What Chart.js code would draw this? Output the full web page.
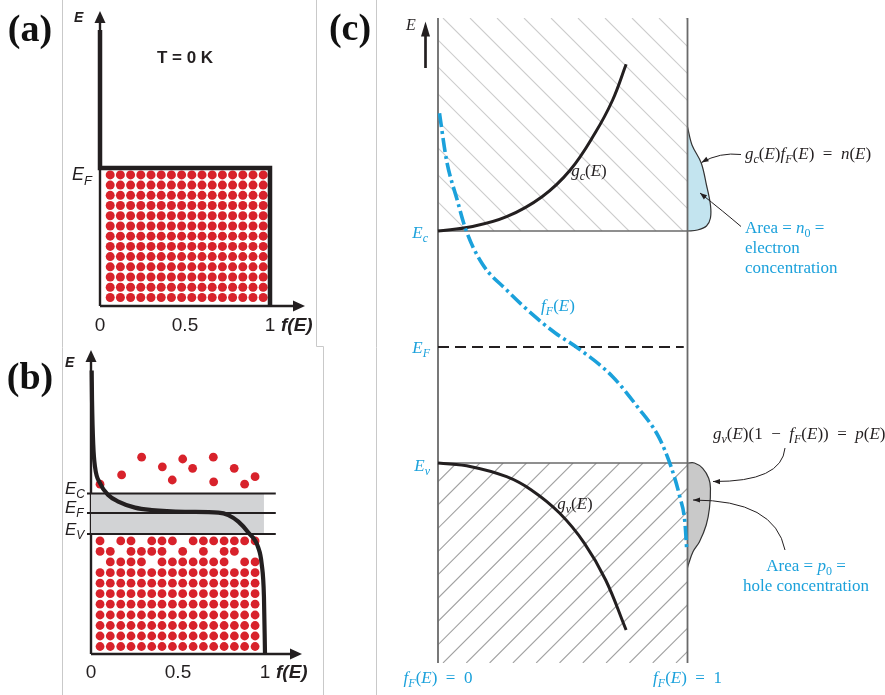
<!DOCTYPE html>
<html>
<head>
<meta charset="utf-8">
<script src="https://cdn.jsdelivr.net/npm/chart.js@4.4.1/dist/chart.umd.min.js"></script>
<style>
  html, body { margin: 0; padding: 0; background: #fff; }
  #wrap { position: relative; width: 885px; height: 695px; }
  canvas { position: absolute; left: 0; top: 0; }
</style>
</head>
<body>
<div id="wrap">
  <canvas id="chartA" width="885" height="695"></canvas>
  <canvas id="chartB" width="885" height="695"></canvas>
  <canvas id="chartC" width="885" height="695"></canvas>
</div>
<script>
// ---- (a) occupancy at T = 0 K  (f, E) ----
const aStep = [[0, 10], [0, 5], [1, 5], [1, 0]];
const aEF = 5;
const aDotCols = [0.06, 0.12, 0.18, 0.24, 0.30, 0.36, 0.42, 0.48, 0.54, 0.60, 0.66, 0.72, 0.78, 0.84, 0.90, 0.96];
const aDotRows = [4.75, 4.38, 4.01, 3.64, 3.27, 2.90, 2.53, 2.16, 1.79, 1.42, 1.05, 0.68, 0.31];
const fTicks = [0, 0.5, 1];
const fTickLabels = ['0', '0.5', '1'];

// ---- (b) occupancy at T > 0 ----
const bEC = 5.35, bEF = 4.7, bEV = 4.0;
const bFermi = [[0.004, 9.45], [0.006, 8.45], [0.013, 6.97], [0.023, 6.24], [0.052, 5.69], [0.099, 5.30],
  [0.157, 5.08], [0.253, 4.88], [0.349, 4.80], [0.540, 4.74], [0.732, 4.71], [0.789, 4.63], [0.847, 4.41],
  [0.904, 4.05], [0.961, 3.55], [0.981, 3.00], [0.994, 1.90], [1.0, 0.0]];
const bDotCols = [0.052, 0.111, 0.171, 0.230, 0.290, 0.349, 0.408, 0.468, 0.527, 0.587, 0.646, 0.705, 0.765, 0.824, 0.883, 0.943];
const bDotRows = [3.77, 3.42, 3.07, 2.71, 2.36, 2.01, 1.66, 1.30, 0.95, 0.60, 0.25];
// holes in the three rows just below E_V (1 = occupied), lower rows are full
const bDotMask = ['1011011101111111', '1101111010101100', '0111101111111011'];
const bFreeDots = [[0.052, 5.66], [0.176, 5.97], [0.291, 6.56], [0.410, 6.24], [0.467, 5.80], [0.527, 6.50],
  [0.584, 6.19], [0.703, 6.56], [0.705, 5.74], [0.823, 6.19], [0.883, 5.66], [0.943, 5.91]];

// ---- (c) band diagram with densities of states ----
const cTop = 64.5;
const cEc = 43.2, cEF = 31.6, cEv = 20.0;
const cGc = [[0, 43.2], [0.133, 43.63], [0.275, 44.63], [0.417, 46.63], [0.530, 49.3], [0.629, 52.97], [0.700, 56.3], [0.754, 59.87]];
const cGv = [[0, 20.0], [0.133, 19.63], [0.275, 18.63], [0.374, 17.3], [0.488, 14.97], [0.587, 11.97], [0.672, 8.3], [0.754, 3.3]];
const cFermi = [[0.006, 54.97], [0.034, 50.3], [0.077, 46.3], [0.112, 43.3], [0.176, 39.97], [0.275, 37.3], [0.389, 34.63],
  [0.470, 33.0], [0.560, 31.5], [0.700, 28.63], [0.799, 25.63], [0.884, 22.63], [0.934, 19.63], [0.969, 16.63],
  [0.990, 13.97], [0.997, 11.3]];
const cN = [[1.0, 53.6], [1.018, 51.8], [1.055, 50.0], [1.076, 47.8], [1.092, 45.8], [1.092, 44.5], [1.076, 43.7], [1.040, 43.3], [1.0, 43.2]];
const cP = [[1.0, 20.0], [1.028, 20.0], [1.061, 19.47], [1.085, 18.47], [1.092, 17.47], [1.088, 15.47], [1.075, 13.8],
  [1.048, 12.13], [1.022, 11.13], [1.003, 9.8], [1.0, 9.5]];

const SANS = '"Liberation Sans", Arial, sans-serif';
const SERIF = '"Liberation Serif", "Times New Roman", serif';
const INK = '#231f20';
const BLUE = '#1ba1db';
const RED = '#d8222b';
const SP = '\u2002'; // en space around math operators

function pts(arr) { return arr.map(([x, y]) => ({ x, y })); }

function lineSet(arr, color, width, extra) {
  return Object.assign({
    data: pts(arr), showLine: true, borderColor: color, borderWidth: width,
    pointRadius: 0, fill: false, clip: false, tension: 0
  }, extra || {});
}

function dotSet(points, r) {
  return { data: points, showLine: false, pointRadius: r, pointBackgroundColor: RED, pointBorderWidth: 0, clip: false };
}

function baseOptions(pad, xMax, yMax) {
  return {
    responsive: false, animation: false, events: [],
    layout: { padding: pad },
    plugins: { legend: { display: false }, tooltip: { enabled: false } },
    scales: {
      x: { type: 'linear', display: false, min: 0, max: xMax },
      y: { type: 'linear', display: false, min: 0, max: yMax }
    }
  };
}

// text made of runs: [text, style] where style has i (italic), b (bold), _ (subscript)
function rich(ctx, x, y, parts, o) {
  const size = o.size, fam = o.family;
  const fontFor = st => (st.includes('i') ? 'italic ' : '') + (st.includes('b') ? 'bold ' : '') +
    (st.includes('_') ? Math.round(size * 0.7) : size) + 'px ' + fam;
  let w = 0;
  for (const [t, st = ''] of parts) { ctx.font = fontFor(st); w += ctx.measureText(t).width; }
  let cx = o.align === 'center' ? x - w / 2 : o.align === 'right' ? x - w : x;
  ctx.save();
  ctx.fillStyle = o.color || INK;
  ctx.textAlign = 'left';
  ctx.textBaseline = 'alphabetic';
  for (const [t, st = ''] of parts) {
    ctx.font = fontFor(st);
    ctx.fillText(t, cx, y + (st.includes('_') ? size * (o.subDrop || 0.25) : 0));
    cx += ctx.measureText(t).width;
  }
  ctx.restore();
}

function arrowHead(ctx, tx, ty, fx, fy, len, half, color) {
  const a = Math.atan2(ty - fy, tx - fx);
  ctx.save();
  ctx.translate(tx, ty);
  ctx.rotate(a);
  ctx.beginPath();
  ctx.moveTo(0, 0);
  ctx.lineTo(-len, -half);
  ctx.lineTo(-len, half);
  ctx.closePath();
  ctx.fillStyle = color;
  ctx.fill();
  ctx.restore();
}

function curvedArrow(ctx, from, ctrl, tip) {
  ctx.save();
  ctx.strokeStyle = INK;
  ctx.lineWidth = 1;
  ctx.beginPath();
  ctx.moveTo(from[0], from[1]);
  ctx.quadraticCurveTo(ctrl[0], ctrl[1], tip[0], tip[1]);
  ctx.stroke();
  ctx.restore();
  arrowHead(ctx, tip[0], tip[1], ctrl[0], ctrl[1], 7, 2.6, INK);
}

function axesArrows(ctx, x0, y0, yTip, xTip) {
  ctx.save();
  ctx.strokeStyle = INK;
  ctx.lineWidth = 2.4;
  ctx.beginPath();
  ctx.moveTo(x0, y0); ctx.lineTo(x0, yTip + 10);
  ctx.moveTo(x0, y0); ctx.lineTo(xTip - 10, y0);
  ctx.stroke();
  ctx.restore();
  arrowHead(ctx, x0, yTip, x0, yTip + 20, 12, 5.5, INK);
  arrowHead(ctx, xTip, y0, xTip - 20, y0, 12, 5.5, INK);
}

function fAxisLabels(chart, base) {
  const { ctx } = chart, sx = chart.scales.x;
  fTicks.forEach((v, i) => {
    rich(ctx, sx.getPixelForValue(v), base, [[fTickLabels[i]]], { size: 19, family: SANS, align: 'center' });
  });
  rich(ctx, sx.getPixelForValue(1) + 11, base, [['f(E)', 'ib']], { size: 19, family: SANS });
}

// ---------- (a) ----------
const aDots = [];
aDotRows.forEach(e => aDotCols.forEach(f => aDots.push({ x: f, y: e })));

const decorA = {
  id: 'decorA',
  beforeDatasetsDraw(chart) {
    const { ctx } = chart, sx = chart.scales.x, sy = chart.scales.y;
    // thin frame lines between the panels
    ctx.save();
    ctx.strokeStyle = '#c9c9c9';
    ctx.lineWidth = 1;
    ctx.beginPath();
    ctx.moveTo(62.5, 0); ctx.lineTo(62.5, 695);
    ctx.moveTo(316.5, 0); ctx.lineTo(316.5, 346.5); ctx.lineTo(323.5, 346.5); ctx.lineTo(323.5, 695);
    ctx.moveTo(376.5, 0); ctx.lineTo(376.5, 695);
    ctx.stroke();
    ctx.restore();
    axesArrows(ctx, sx.getPixelForValue(0), sy.getPixelForValue(0), 11, 305);
  },
  afterDraw(chart) {
    const { ctx } = chart, sy = chart.scales.y;
    ctx.save();
    ctx.font = 'bold 38px ' + SERIF;
    ctx.fillStyle = '#111';
    ctx.textAlign = 'center';
    ctx.fillText('(a)', 30, 41);
    ctx.restore();
    rich(ctx, 74, 22, [['E', 'ib']], { size: 14, family: SANS });
    rich(ctx, 185, 63, [['T', 'b'], [' = 0 K', 'b']], { size: 17, family: SANS, align: 'center' });
    rich(ctx, 72, sy.getPixelForValue(aEF) + 12, [['E', 'i'], ['F', 'i_']], { size: 18, family: SANS, subDrop: 0.28 });
    fAxisLabels(chart, 331);
  }
};

new Chart(document.getElementById('chartA'), {
  type: 'scatter',
  data: {
    datasets: [
      lineSet(aStep, INK, 4.5, { borderJoinStyle: 'miter' }),
      dotSet(aDots, 4.5)
    ]
  },
  options: baseOptions({ left: 100, right: 615, top: 30, bottom: 389 }, 1, 10),
  plugins: [decorA]
});

// ---------- (b) ----------
const bDots = [];
bDotRows.forEach((e, r) => bDotCols.forEach((f, c) => {
  const mask = bDotMask[r];
  if (!mask || mask[c] === '1') bDots.push({ x: f, y: e });
}));
const bLevelSpan = [-0.023, 1.062];

const decorB = {
  id: 'decorB',
  beforeDatasetsDraw(chart) {
    const sx = chart.scales.x, sy = chart.scales.y;
    axesArrows(chart.ctx, sx.getPixelForValue(0), sy.getPixelForValue(0), 350, 302);
  },
  afterDraw(chart) {
    const { ctx } = chart, sy = chart.scales.y;
    ctx.save();
    ctx.font = 'bold 38px ' + SERIF;
    ctx.fillStyle = '#111';
    ctx.textAlign = 'center';
    ctx.fillText('(b)', 30, 389);
    ctx.restore();
    rich(ctx, 65, 367, [['E', 'ib']], { size: 14, family: SANS });
    const o = { size: 17, family: SANS, subDrop: 0.24 };
    rich(ctx, 65, sy.getPixelForValue(bEC) + 0, [['E', 'i'], ['C', 'i_']], o);
    rich(ctx, 65, sy.getPixelForValue(bEF) + 0, [['E', 'i'], ['F', 'i_']], o);
    rich(ctx, 65, sy.getPixelForValue(bEV) + 1, [['E', 'i'], ['V', 'i_']], o);
    fAxisLabels(chart, 678);
  }
};

new Chart(document.getElementById('chartB'), {
  type: 'scatter',
  data: {
    datasets: [
      lineSet(bFermi, INK, 4.2, { cubicInterpolationMode: 'monotone' }),
      dotSet(pts(bFreeDots), 4.4),
      dotSet(bDots, 4.4),
      lineSet([[bLevelSpan[0], bEC], [bLevelSpan[1], bEC]], INK, 1.8),
      lineSet([[bLevelSpan[0], bEF], [bLevelSpan[1], bEF]], INK, 1.8),
      lineSet([[bLevelSpan[0], bEV], [bLevelSpan[1], bEV]], INK, 1.8),
      lineSet([[0, bEC], [0.994, bEC]], 'rgba(0,0,0,0)', 0, { fill: { value: bEV }, backgroundColor: '#d2d3d5' })
    ]
  },
  options: baseOptions({ left: 91, right: 620, top: 354, bottom: 41 }, 1, 10),
  plugins: [decorB]
});

// ---------- (c) ----------
function hatch(ctx, x0, y0, x1, y1, step, phase, rising, color) {
  ctx.save();
  ctx.beginPath();
  ctx.rect(x0, y0, x1 - x0, y1 - y0);
  ctx.clip();
  ctx.strokeStyle = color;
  ctx.lineWidth = 1.1;
  const h = y1 - y0;
  ctx.beginPath();
  for (let s = x0 + phase - Math.ceil((h + step) / step) * step; s < x1 + h; s += step) {
    if (rising) { ctx.moveTo(s, y1); ctx.lineTo(s + h, y0); }
    else { ctx.moveTo(s, y0); ctx.lineTo(s + h, y1); }
  }
  ctx.stroke();
  ctx.restore();
}

const decorC = {
  id: 'decorC',
  beforeDatasetsDraw(chart) {
    const { ctx } = chart, sx = chart.scales.x, sy = chart.scales.y;
    const l = sx.getPixelForValue(0), r = sx.getPixelForValue(1);
    hatch(ctx, l, sy.getPixelForValue(cTop), r, sy.getPixelForValue(cEc), 27, 5, false, '#cdcdcd');
    hatch(ctx, l, sy.getPixelForValue(cEv), r, sy.getPixelForValue(0), 23.3, 5, true, '#a3a3a3');
  },
  afterDraw(chart) {
    const { ctx } = chart, sx = chart.scales.x, sy = chart.scales.y;
    ctx.save();
    ctx.font = 'bold 38px ' + SERIF;
    ctx.fillStyle = '#111';
    ctx.textAlign = 'center';
    ctx.fillText('(c)', 350, 40);
    ctx.restore();

    // energy arrow
    ctx.save();
    ctx.strokeStyle = INK;
    ctx.lineWidth = 2.7;
    ctx.beginPath();
    ctx.moveTo(425.5, 68); ctx.lineTo(425.5, 32);
    ctx.stroke();
    ctx.restore();
    arrowHead(ctx, 425.5, 21.5, 425.5, 40, 15, 4.5, INK);

    const s = { size: 17, family: SERIF };
    const b = { size: 17, family: SERIF, color: BLUE };
    rich(ctx, 411, 30, [['E', 'i']], Object.assign({}, s, { size: 16, align: 'center' }));
    rich(ctx, 428, sy.getPixelForValue(cEc) + 7, [['E', 'i'], ['c', 'i_']], Object.assign({}, b, { align: 'right' }));
    rich(ctx, 430, sy.getPixelForValue(cEF) + 6, [['E', 'i'], ['F', 'i_']], Object.assign({}, b, { align: 'right' }));
    rich(ctx, 430, sy.getPixelForValue(cEv) + 8, [['E', 'i'], ['v', 'i_']], Object.assign({}, b, { align: 'right' }));

    rich(ctx, 589, 176, [['g', 'i'], ['c', 'i_'], ['('], ['E', 'i'], [')']], Object.assign({}, s, { align: 'center' }));
    rich(ctx, 575, 509, [['g', 'i'], ['v', 'i_'], ['('], ['E', 'i'], [')']], Object.assign({}, s, { align: 'center' }));
    rich(ctx, 558, 311, [['f', 'i'], ['F', 'i_'], ['('], ['E', 'i'], [')']], Object.assign({}, b, { align: 'center' }));

    const fx0 = sx.getPixelForValue(0), fx1 = sx.getPixelForValue(1);
    rich(ctx, fx0, 683, [['f', 'i'], ['F', 'i_'], ['('], ['E', 'i'], [')' + SP + '=' + SP + '0']], Object.assign({}, b, { align: 'center' }));
    rich(ctx, fx1, 683, [['f', 'i'], ['F', 'i_'], ['('], ['E', 'i'], [')' + SP + '=' + SP + '1']], Object.assign({}, b, { align: 'center' }));

    rich(ctx, 745, 159, [['g', 'i'], ['c', 'i_'], ['('], ['E', 'i'], [')'], ['f', 'i'], ['F', 'i_'], ['('], ['E', 'i'],
      [')' + SP + '=' + SP], ['n', 'i'], ['('], ['E', 'i'], [')']], s);
    rich(ctx, 745, 233, [['Area = '], ['n', 'i'], ['0', '_'], [' =']], b);
    rich(ctx, 745, 253, [['electron']], b);
    rich(ctx, 745, 273, [['concentration']], b);

    rich(ctx, 713, 439, [['g', 'i'], ['v', 'i_'], ['('], ['E', 'i'], [')(1' + SP + '\u2212' + SP], ['f', 'i'], ['F', 'i_'], ['('], ['E', 'i'],
      ['))' + SP + '=' + SP], ['p', 'i'], ['('], ['E', 'i'], [')']], s);
    rich(ctx, 806, 571, [['Area = '], ['p', 'i'], ['0', '_'], [' =']], Object.assign({}, b, { align: 'center' }));
    rich(ctx, 806, 591, [['hole concentration']], Object.assign({}, b, { align: 'center' }));

    curvedArrow(ctx, [741, 154.5], [720, 152], [701.5, 162.5]);
    curvedArrow(ctx, [741, 226.5], [724, 212], [700, 193]);
    curvedArrow(ctx, [785, 448], [782, 482], [713, 481.5]);
    curvedArrow(ctx, [785, 550], [775, 500], [693, 500]);
  }
};

new Chart(document.getElementById('chartC'), {
  type: 'scatter',
  data: {
    datasets: [
      lineSet(cFermi, BLUE, 3.6, { cubicInterpolationMode: 'monotone', borderDash: [14, 4, 3, 4] }),
      lineSet(cGc, INK, 3, { tension: 0.4 }),
      lineSet(cGv, INK, 3, { tension: 0.4 }),
      lineSet([[0, cEF], [0.985, cEF]], INK, 1.8, { borderDash: [11, 6] }),
      lineSet([[0, cEc], [1, cEc]], '#6a6a6a', 1.5),
      lineSet([[0, cEv], [1, cEv]], '#6a6a6a', 1.5),
      lineSet([[0, 0], [0, cTop]], '#6a6a6a', 1.8),
      lineSet([[1, 0], [1, cTop]], '#6a6a6a', 1.8),
      lineSet(cN, '#333', 1.2, { tension: 0.35, fill: 'shape', backgroundColor: '#c3e4ef' }),
      lineSet(cP, '#333', 1.2, { tension: 0.35, fill: 'shape', backgroundColor: '#c9c9c9' })
    ]
  },
  options: baseOptions({ left: 438, right: 147.6, top: 18, bottom: 32 }, 1.2, cTop),
  plugins: [decorC]
});
</script>
</body>
</html>
